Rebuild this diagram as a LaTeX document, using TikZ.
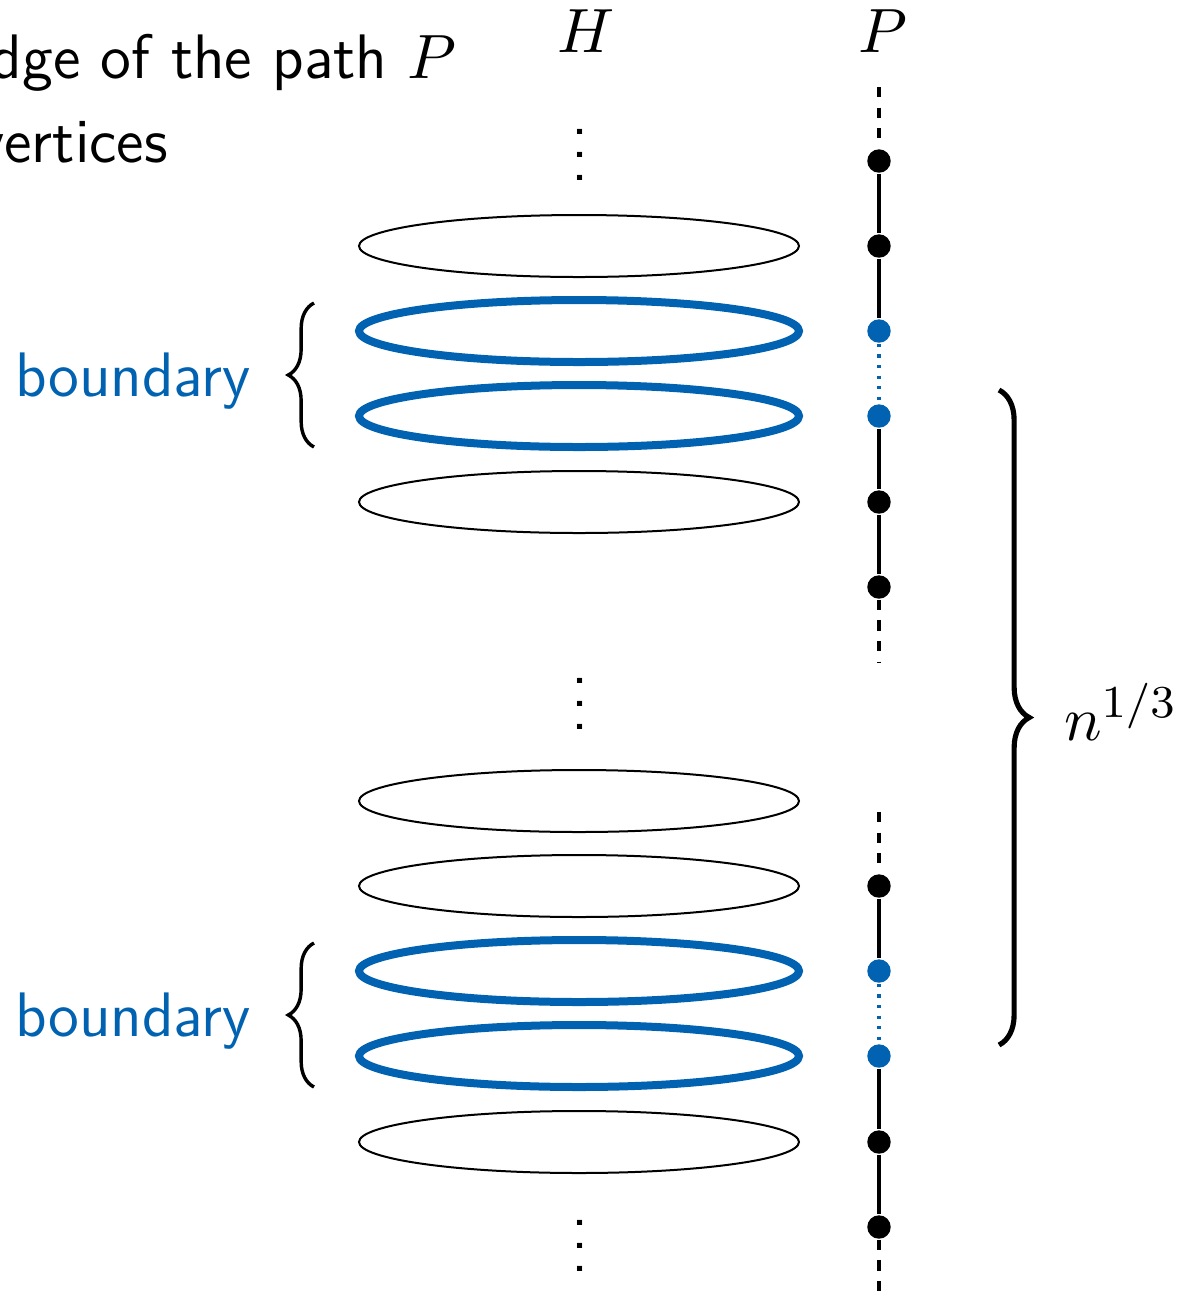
\documentclass[tikz,border=0pt]{standalone}
\usepackage{fontspec}
\usetikzlibrary{shapes.geometric,decorations.pathreplacing}
\definecolor{bblue}{RGB}{0,98,177}
\tikzset{
 ring/.style={draw, ellipse, line width=0.35pt, minimum width=77pt, minimum height=10.85pt, inner sep=0pt},
 bring/.style={ring, draw=bblue, line width=1.4pt},
 vtx/.style={circle, fill=black, inner sep=0pt, minimum size=4.1pt},
 bvtx/.style={vtx, fill=bblue},
 pedge/.style={line width=0.6pt},
 pdash/.style={line width=0.6pt, dash pattern=on 1.8pt off 1.8pt},
 bdot/.style={draw=bblue, line width=0.6pt, dash pattern=on 0.55pt off 1.3pt},
 lbl/.style={font=\sffamily\fontsize{11}{13}\selectfont, inner sep=0pt},
 lbrace/.style={decorate, decoration={brace, amplitude=4.5pt}, line width=0.6pt},
 rbrace/.style={decorate, decoration={brace, amplitude=5.3pt}, line width=0.9pt},
}
\begin{document}
\begin{tikzpicture}[x=0.175pt, y=-0.175pt]
\useasboundingbox (0,0) rectangle (1193,1301);
% texts
\node[lbl, anchor=base east] (t1) at (458,78) {edge of the path $P$};
\node[lbl, anchor=base east] (t2) at (169,162) {vertices};
\node[lbl, anchor=base] (H) at (586,52) {$H$};
\node[lbl, anchor=base] (Pl) at (883,52) {$P$};
% rings
\node[ring] (e1) at (579,246) {};
\node[bring] (e2) at (579,331) {};
\node[bring] (e3) at (579,416) {};
\node[ring] (e4) at (579,502) {};
\node[ring] (e5) at (579,801) {};
\node[ring] (e6) at (579,886) {};
\node[bring] (e7) at (579,971) {};
\node[bring] (e8) at (579,1056) {};
\node[ring] (e9) at (579,1142) {};
% vdots
\node[lbl, anchor=base] (d1) at (580,180) {\vdots};
\node[lbl, anchor=base] (d2) at (580,729) {\vdots};
\node[lbl, anchor=base] (d3) at (580,1271) {\vdots};
% path P
\coordinate (c1) at (879,87);
\coordinate (c2) at (879,662);
\coordinate (c3) at (879,812);
\coordinate (c4) at (879,1301);
\node[vtx] (v1) at (879,161) {};
\node[vtx] (v2) at (879,246) {};
\node[bvtx] (v3) at (879,331) {};
\node[bvtx] (v4) at (879,416) {};
\node[vtx] (v5) at (879,502) {};
\node[vtx] (v6) at (879,587) {};
\node[vtx] (w1) at (879,886) {};
\node[bvtx] (w2) at (879,971) {};
\node[bvtx] (w3) at (879,1056) {};
\node[vtx] (w4) at (879,1142) {};
\node[vtx] (w5) at (879,1227) {};
\draw[pdash] (c1) -- (v1);
\draw[pedge] (v1) -- (v2) -- (v3);
\draw[bdot] (v3) -- (v4);
\draw[pedge] (v4) -- (v5) -- (v6);
\draw[pdash] (v6) -- (c2);
\draw[pdash] (c3) -- (w1);
\draw[pedge] (w1) -- (w2);
\draw[bdot] (w2) -- (w3);
\draw[pedge] (w3) -- (w4) -- (w5);
\draw[pdash] (w5) -- (c4);
% braces
\coordinate (b1a) at (314,447);
\coordinate (b1b) at (314,303);
\coordinate (b2a) at (314,1087);
\coordinate (b2b) at (314,943);
\draw[lbrace] (b1a) -- (b1b);
\draw[lbrace] (b2a) -- (b2b);
\node[lbl, anchor=base east, text=bblue] (bd1) at (252,396) {boundary};
\node[lbl, anchor=base east, text=bblue] (bd2) at (252,1036) {boundary};
\coordinate (r1) at (999,390);
\coordinate (r2) at (999,1045);
\draw[rbrace] (r1) -- (r2);
\node[lbl, anchor=base west] (nn) at (1063,740) {$n^{1/3}$};
\end{tikzpicture}
\end{document}
